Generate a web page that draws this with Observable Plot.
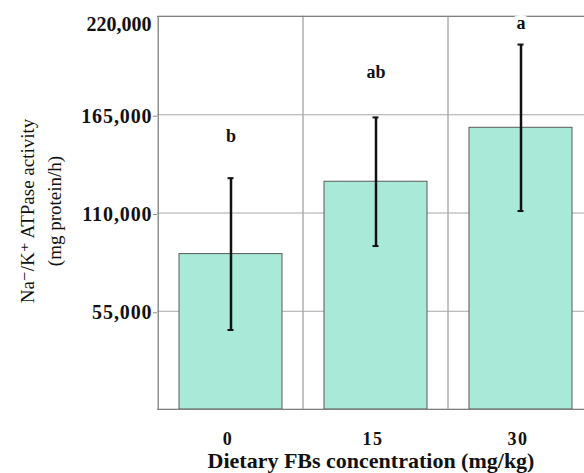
<!DOCTYPE html>
<html><head><meta charset="utf-8">
<script src="https://cdn.jsdelivr.net/npm/d3@7"></script>
<script src="https://cdn.jsdelivr.net/npm/@observablehq/plot@0.6"></script>
<style>
body{margin:0;background:#fff;} svg{display:block;}
svg text{font-family:"Liberation Serif","DejaVu Serif",serif !important;}
g[aria-label="y-axis tick label"] text{letter-spacing:0.9px;}
g[aria-label="ytop"] text{letter-spacing:0.9px;}
g[aria-label="x-axis tick label"] text{letter-spacing:1.5px;}
g[aria-label="xtitle"] text{letter-spacing:1.4px;}
g[aria-label="ytitle"] text{letter-spacing:0.4px;}
g[aria-label="letters"] text{letter-spacing:0.6px;}
</style>
</head><body><div id="chart"></div>
<script>
const categories = ["0", "15", "30"];
const means = [87000, 127500, 157700];
const sds = [42500, 36000, 46600];
const letters = ["b", "ab", "a"];
const letterY = [152700, 189000, 216000];
const yTicks = [55000, 110000, 165000, 220000];
const yLabel = "Na\u207B/K\u207A ATPase activity\n(mg protein/h)";
const xLabel = "Dietary FBs concentration (mg/kg)";

const data = categories.map((c, i) => ({c, m: means[i], lo: means[i] - sds[i], hi: means[i] + sds[i], l: letters[i], ly: letterY[i]}));
const font = "Liberation Serif";
const fmt = d3.format(",");

const chart = Plot.plot({
  width: 584, height: 473,
  marginTop: 16, marginBottom: 64, marginLeft: 157, marginRight: 0,
  style: "font-family: 'Liberation Serif', serif; background: #fff;",
  x: {domain: categories, range: [157, 593], padding: 0, axis: null},
  y: {domain: [0, 220000], axis: null},
  marks: [
    Plot.barY(categories, {x: d => d, y1: 0, y2: 220000, fill: "none", stroke: "#b0b0b0", strokeWidth: 1}),
    Plot.gridY(yTicks.slice(0, 3), {stroke: "#a8a8a8", strokeOpacity: 1}),
    Plot.barY(data, {x: "c", y: "m", fill: "#a9e9d7", stroke: "#5a5a5a", strokeWidth: 1, insetLeft: 21, insetRight: 21}),
    Plot.ruleX(data, {x: "c", y1: "lo", y2: "hi", stroke: "#111", strokeWidth: 2.5}),
    Plot.tickY(data, {x: "c", y: "lo", stroke: "#111", strokeWidth: 2, insetLeft: 69.5, insetRight: 69.5}),
    Plot.tickY(data, {x: "c", y: "hi", stroke: "#111", strokeWidth: 2, insetLeft: 69.5, insetRight: 69.5}),
    Plot.ruleX([0], {x: () => categories[0], y1: 0, y2: 220000, dx: -72.7, stroke: "#808080"}),
    Plot.ruleY([0, 220000], {stroke: "#808080"}),
    Plot.axisY({ticks: yTicks.slice(0, 3), tickFormat: fmt, tickSize: 4, tickPadding: 1, dy: 1.5, fontSize: 20, fontWeight: "bold", fill: "#111", stroke: "#909090", fontFamily: font}),
    Plot.text(yTicks.slice(3), {y: d => d, text: d => fmt(d), frameAnchor: "left", textAnchor: "end", dx: -6, dy: 8, fontSize: 20, fontWeight: "bold", fill: "#111", fontFamily: font, ariaLabel: "ytop"}),
    Plot.axisX({tickSize: 0, tickPadding: 23, fontSize: 18, fontWeight: "bold", fill: "#111", label: null, dx: -3, fontFamily: font}),
    Plot.text(data, {x: "c", y: "ly", text: "l", fontSize: 18, fontWeight: "bold", fill: "#111", stroke: "white", strokeWidth: 10, fontFamily: font, ariaLabel: "letters"}),
    Plot.text([yLabel], {frameAnchor: "left", textAnchor: "middle", lineAnchor: "middle", dx: -119, dy: -2, rotate: -90, fontSize: 19, lineHeight: 1.45, fill: "#111", fontFamily: font, ariaLabel: "ytitle"}),
    Plot.text([xLabel], {frameAnchor: "bottom", lineAnchor: "middle", dy: 51, fontSize: 22, fontWeight: "bold", fill: "#111", fontFamily: font, ariaLabel: "xtitle"})
  ]
});
document.getElementById("chart").append(chart);
</script>
</body></html>
